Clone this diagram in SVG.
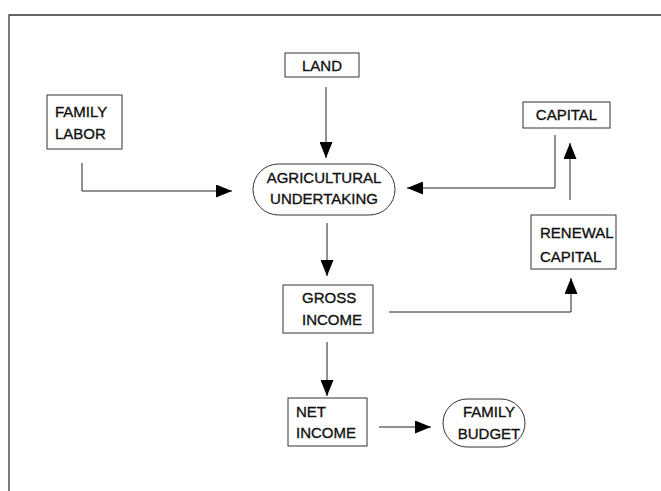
<svg xmlns="http://www.w3.org/2000/svg" width="661" height="491" viewBox="0 0 661 491">
<style>
.box{fill:#fff;stroke:#333;stroke-width:1}
.lbl{font-family:"Liberation Sans",Arial,sans-serif;font-size:15px;fill:#111;stroke:#111;stroke-width:0.35}
.c{text-anchor:middle}
.conn{fill:none;stroke:#222;stroke-width:1}
.frame{fill:none;stroke:#333;stroke-width:1.3}
</style>
<defs>
<marker id="ah" markerUnits="userSpaceOnUse" markerWidth="16" markerHeight="13" refX="16" refY="6.5" orient="auto">
<path d="M0,0 L16,6.5 L0,13 z" fill="#000"/>
</marker>
</defs>
<path class="frame" d="M9,491 V15 H661"/>
<g id="connectors">
<path class="conn" marker-end="url(#ah)" d="M326,87 V158"/>
<path class="conn" marker-end="url(#ah)" d="M82,163 V191 H232"/>
<path class="conn" marker-end="url(#ah)" d="M555,135 V188 H407"/>
<path class="conn" marker-end="url(#ah)" d="M570,200 V143"/>
<path class="conn" marker-end="url(#ah)" d="M327,223 V276"/>
<path class="conn" marker-end="url(#ah)" d="M389,312 H571 V278"/>
<path class="conn" marker-end="url(#ah)" d="M327,342 V396"/>
<path class="conn" marker-end="url(#ah)" d="M379,427 H431"/>
</g>
<g id="land">
<rect class="box" x="285" y="53" width="74" height="24"/>
<text class="lbl c" x="322" y="71">LAND</text>
</g>
<g id="family-labor">
<rect class="box" x="47" y="95" width="75" height="54"/>
<text class="lbl" x="55" y="117">FAMILY</text>
<text class="lbl" x="55" y="139">LABOR</text>
</g>
<g id="capital">
<rect class="box" x="523" y="102" width="87" height="26"/>
<text class="lbl c" x="566.5" y="120">CAPITAL</text>
</g>
<g id="agricultural-undertaking">
<rect class="box" x="253" y="164" width="142" height="51" rx="25.5" ry="25.5"/>
<text class="lbl c" x="324" y="183">AGRICULTURAL</text>
<text class="lbl c" x="324" y="204">UNDERTAKING</text>
</g>
<g id="renewal-capital">
<rect class="box" x="531" y="215" width="85" height="54"/>
<text class="lbl" x="540" y="238">RENEWAL</text>
<text class="lbl" x="540" y="262">CAPITAL</text>
</g>
<g id="gross-income">
<rect class="box" x="283" y="285" width="90" height="48"/>
<text class="lbl" x="302" y="303">GROSS</text>
<text class="lbl" x="302" y="325">INCOME</text>
</g>
<g id="net-income">
<rect class="box" x="288" y="398" width="79" height="48"/>
<text class="lbl" x="296" y="417">NET</text>
<text class="lbl" x="296" y="438">INCOME</text>
</g>
<g id="family-budget">
<rect class="box" x="443" y="399" width="82" height="48" rx="24" ry="24"/>
<text class="lbl c" x="489" y="417">FAMILY</text>
<text class="lbl c" x="489" y="439">BUDGET</text>
</g>
</svg>
